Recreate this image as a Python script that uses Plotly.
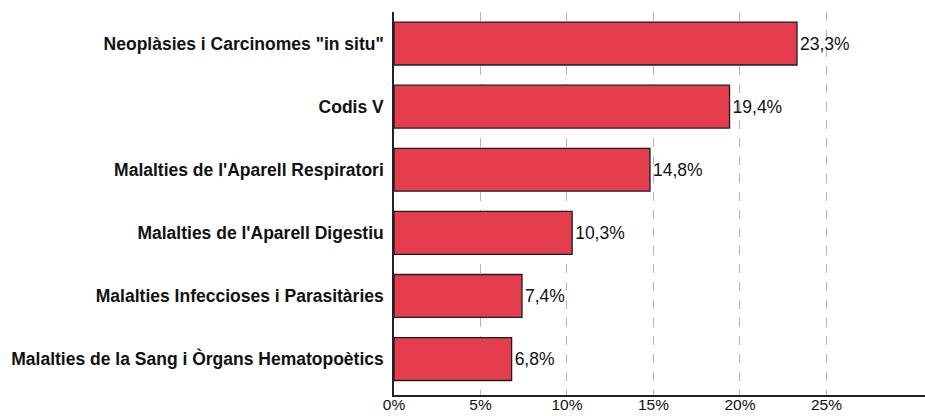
import plotly.graph_objects as go

categories = [
    'Neoplàsies i Carcinomes "in situ"',
    "Codis V",
    "Malalties de l'Aparell Respiratori",
    "Malalties de l'Aparell Digestiu",
    "Malalties Infeccioses i Parasitàries",
    "Malalties de la Sang i Òrgans Hematopoètics",
]
percent = [23.3, 19.4, 14.8, 10.3, 7.4, 6.8]
tick_values = [0, 5, 10, 15, 20, 25]
tick_labels = ["0%", "5%", "10%", "15%", "20%", "25%"]

bold_labels = ["<b>" + c + "</b>" for c in categories]
FONT = "Liberation Sans, Arial"
SIZE = 17.5

fig = go.Figure(
    go.Bar(
        x=percent,
        y=bold_labels,
        orientation="h",
        width=0.68,
        marker=dict(color="#E43D4E", line=dict(color="#1e1e1e", width=1.3)),
        texttemplate="%{x:.1f}%",
        textposition="outside",
        cliponaxis=False,
        textfont=dict(family=FONT, size=SIZE, color="#111111"),
    )
)

fig.update_layout(
    width=925,
    height=416,
    margin=dict(l=394, r=0, t=12, b=21),
    paper_bgcolor="white",
    plot_bgcolor="white",
    separators=",.",
    showlegend=False,
    font=dict(family=FONT, size=SIZE, color="#111111"),
)

fig.update_xaxes(
    range=[0, 30.7],
    tickvals=tick_values,
    ticktext=tick_labels,
    automargin=False,
    showgrid=True,
    gridcolor="#b4b4b4",
    griddash="dash",
    gridwidth=1,
    showline=True,
    linecolor="#222222",
    linewidth=1.5,
    zeroline=False,
    ticks="",
    ticklabelstandoff=-5,
    tickfont=dict(family=FONT, size=15.5, color="#111111"),
)

fig.update_yaxes(
    range=[5.57, -0.5],
    automargin=False,
    showline=True,
    linecolor="#222222",
    linewidth=1.5,
    showgrid=False,
    ticks="",
    ticklabelstandoff=5,
    tickfont=dict(family=FONT, size=SIZE, color="#111111"),
)

fig.write_html("out.html")
